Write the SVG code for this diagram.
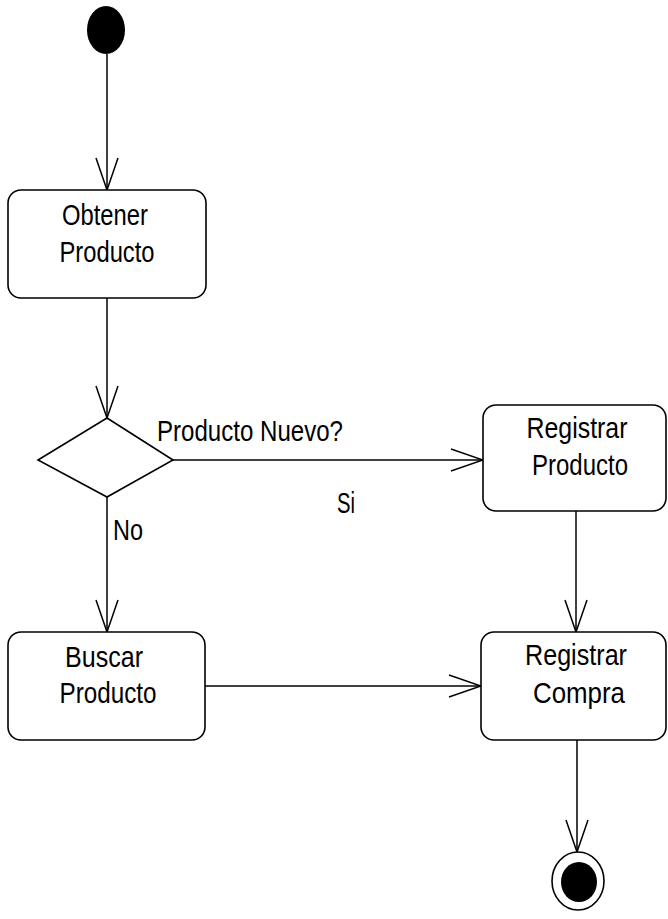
<svg xmlns="http://www.w3.org/2000/svg" width="668" height="919" viewBox="0 0 668 919">
  <style>
    .box { fill: #fff; stroke: #000; stroke-width: 1.6; }
    .edge { fill: none; stroke: #000; stroke-width: 1.5; marker-end: url(#open); }
    .lbl { font-family: "Liberation Sans", Arial, sans-serif; font-size: 29px; fill: #000; }
    .c { text-anchor: middle; }
  </style>
  <defs>
    <marker id="open" markerUnits="userSpaceOnUse" viewBox="-34 -13 36 26" markerWidth="36" markerHeight="26" refX="0" refY="0" orient="auto">
      <path d="M-32,-11 L0,0 L-32,11" fill="none" stroke="#000" stroke-width="1.5"/>
    </marker>
  </defs>
  <rect width="668" height="919" fill="#fff"/>

  <g id="connectors">
    <line class="edge" x1="107" y1="54" x2="107" y2="190"/>
    <line class="edge" x1="107" y1="298" x2="107" y2="418"/>
    <line class="edge" x1="173" y1="460" x2="483" y2="460"/>
    <line class="edge" x1="107" y1="497" x2="107" y2="632"/>
    <line class="edge" x1="576" y1="511" x2="576" y2="632"/>
    <line class="edge" x1="205" y1="686" x2="481" y2="686"/>
    <line class="edge" x1="577" y1="740" x2="577" y2="852"/>
    <text class="lbl" x="157" y="441" textLength="186" lengthAdjust="spacingAndGlyphs">Producto Nuevo?</text>
    <text class="lbl" x="337" y="513" textLength="18" lengthAdjust="spacingAndGlyphs">Si</text>
    <text class="lbl" x="113" y="540" textLength="30" lengthAdjust="spacingAndGlyphs">No</text>
  </g>

  <g id="start">
    <ellipse cx="106" cy="30" rx="19" ry="24" fill="#000"/>
  </g>

  <g id="obtener">
    <rect class="box" x="8" y="190" width="198" height="108" rx="13"/>
    <text class="lbl c" x="105" y="225" textLength="86" lengthAdjust="spacingAndGlyphs">Obtener</text>
    <text class="lbl c" x="107" y="262" textLength="95" lengthAdjust="spacingAndGlyphs">Producto</text>
  </g>

  <g id="decision">
    <polygon class="box" points="107,418 173,460 107,497 38,460"/>
  </g>

  <g id="registrar-producto">
    <rect class="box" x="483" y="405" width="183" height="106" rx="13"/>
    <text class="lbl c" x="577" y="438" textLength="101" lengthAdjust="spacingAndGlyphs">Registrar</text>
    <text class="lbl c" x="580" y="475" textLength="96" lengthAdjust="spacingAndGlyphs">Producto</text>
  </g>

  <g id="buscar">
    <rect class="box" x="8" y="632" width="197" height="108" rx="13"/>
    <text class="lbl c" x="104" y="667" textLength="78" lengthAdjust="spacingAndGlyphs">Buscar</text>
    <text class="lbl c" x="108" y="703" textLength="97" lengthAdjust="spacingAndGlyphs">Producto</text>
  </g>

  <g id="registrar-compra">
    <rect class="box" x="481" y="632" width="185" height="108" rx="13"/>
    <text class="lbl c" x="576" y="665" textLength="102" lengthAdjust="spacingAndGlyphs">Registrar</text>
    <text class="lbl c" x="579" y="703" textLength="92" lengthAdjust="spacingAndGlyphs">Compra</text>
  </g>

  <g id="end">
    <ellipse cx="578" cy="881" rx="26" ry="29" fill="#fff" stroke="#000" stroke-width="1.6"/>
    <ellipse cx="579" cy="882" rx="18" ry="20" fill="#000"/>
  </g>
</svg>
